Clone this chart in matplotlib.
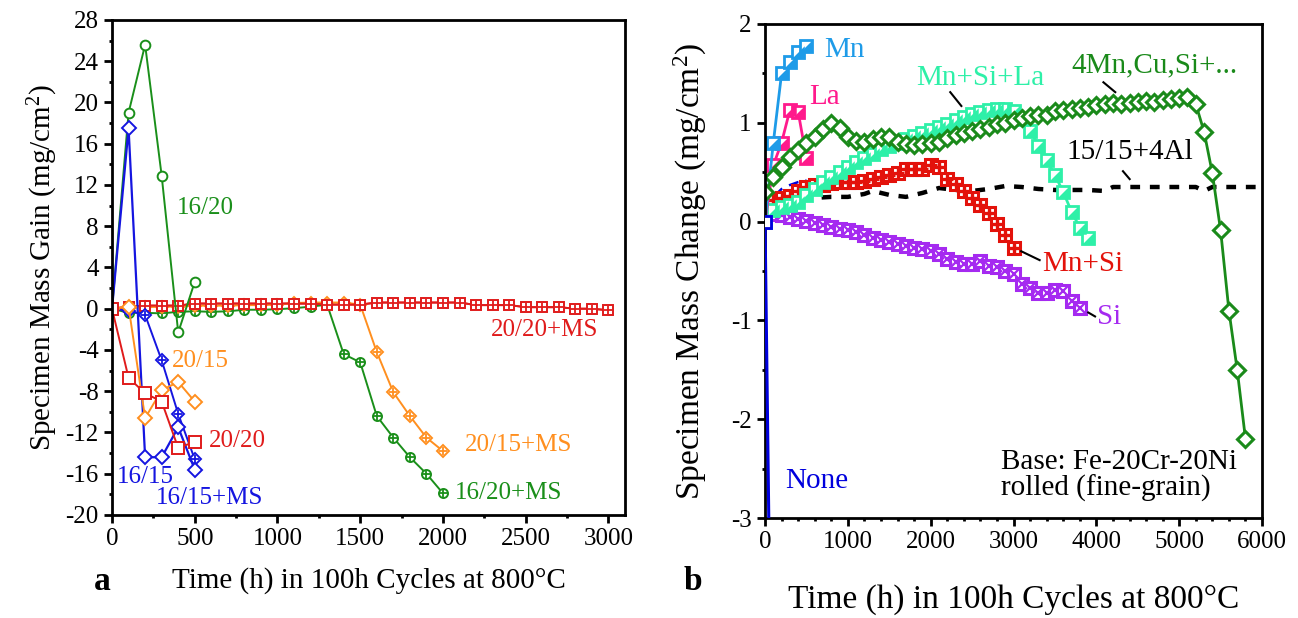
import numpy as np
import matplotlib.pyplot as plt
from matplotlib.path import Path
from matplotlib.ticker import MultipleLocator

plt.rcParams['font.family'] = 'Liberation Serif'
plt.rcParams['mathtext.fontset'] = 'custom'
plt.rcParams['mathtext.rm'] = 'Liberation Serif'
plt.rcParams['mathtext.it'] = 'Liberation Serif:italic'
plt.rcParams['axes.unicode_minus'] = False

# ---------------- panel a: mass gain, 100h cycles ----------------
t_a = [0, 100, 200, 300, 400, 500]
gain_16_20 = [0, 19.0, 25.6, 12.9, -2.3, 2.6]
gain_16_15 = [0, 17.5, -14.4, -14.4, -11.5, -15.6]
gain_20_15 = [0, 0.2, -10.6, -7.9, -7.1, -9.0]
gain_20_20 = [0, -6.7, -8.2, -9.0, -13.5, -12.9]
gain_16_15_ms = [0, -0.2, -0.6, -5.0, -10.2, -14.6]

t_a_long = list(range(0, 2100, 100))
gain_16_20_ms = [0, -0.4, -0.4, -0.45, -0.3, -0.25, -0.3, -0.25, -0.1, -0.1, -0.05,
                 0.05, 0.2, 0.4, -4.4, -5.2, -10.4, -12.5, -14.4, -16.0, -17.9]
gain_20_15_ms = [0, 0.1, 0.15, 0.2, 0.2, 0.3, 0.3, 0.3, 0.35, 0.35, 0.4,
                 0.55, 0.6, 0.6, 0.6, 0.4, -4.2, -8.1, -10.4, -12.5, -13.8]

t_a_3000 = list(range(0, 3100, 100))
gain_20_20_ms = [0, 0.2, 0.3, 0.3, 0.3, 0.5, 0.5, 0.5, 0.5, 0.5, 0.5, 0.5, 0.5, 0.4, 0.4,
                 0.4, 0.6, 0.6, 0.6, 0.6, 0.6, 0.6, 0.35, 0.35, 0.35, 0.15, 0.15, 0.15,
                 0.0, 0.0, -0.15]

# ---------------- panel b: mass change, Fe-20Cr-20Ni variants ----------------
t_b_short = [0, 100, 200, 300, 400, 500]
chg_mn = [0, 0.8, 1.5, 1.62, 1.72, 1.78]
chg_la = [0, 0.57, 0.80, 1.13, 1.11, 0.64]
chg_blue_dash = [0.12, 0.25, 0.33, 0.37, 0.40, 0.42]

t_none = [0, 60]
chg_none = [0, -4.0]

t_mnsila = list(range(0, 4000, 100))
chg_mnsila = [0.0, 0.12, 0.15, 0.17, 0.20, 0.27, 0.33, 0.40, 0.45, 0.50, 0.55, 0.60, 0.64,
              0.68, 0.73, 0.77, 0.80, 0.84, 0.87, 0.90, 0.93, 0.96, 0.99, 1.03, 1.06, 1.09,
              1.11, 1.13, 1.14, 1.14, 1.12, 1.04, 0.92, 0.77, 0.62, 0.47, 0.30, 0.10, -0.06,
              -0.17]

t_mnsi = list(range(0, 3100, 100))
chg_mnsi = [0.17, 0.22, 0.24, 0.26, 0.31, 0.35, 0.37, 0.37, 0.39, 0.40, 0.40, 0.40, 0.41,
            0.43, 0.45, 0.47, 0.49, 0.53, 0.53, 0.53, 0.57, 0.55, 0.43, 0.38, 0.31, 0.24,
            0.17, 0.09, -0.02, -0.14, -0.27]

t_si = list(range(0, 3900, 100))
chg_si = [0.10, 0.08, 0.07, 0.05, 0.03, 0.01, -0.01, -0.03, -0.05, -0.07, -0.09, -0.11,
          -0.14, -0.17, -0.19, -0.21, -0.23, -0.25, -0.27, -0.28, -0.30, -0.33, -0.38,
          -0.41, -0.43, -0.43, -0.40, -0.45, -0.46, -0.50, -0.53, -0.63, -0.67, -0.72,
          -0.72, -0.69, -0.70, -0.80, -0.87]

t_4mn = list(range(0, 5900, 100))
chg_4mn = [0.30, 0.45, 0.55, 0.65, 0.72, 0.80, 0.86, 0.94, 1.00, 0.95, 0.86, 0.82, 0.81,
           0.84, 0.86, 0.86, 0.81, 0.79, 0.78, 0.79, 0.80, 0.81, 0.85, 0.88, 0.90, 0.92,
           0.94, 0.96, 0.99, 1.00, 1.03, 1.05, 1.07, 1.08, 1.08, 1.12, 1.13, 1.14, 1.15,
           1.16, 1.18, 1.19, 1.20, 1.19, 1.20, 1.21, 1.22, 1.21, 1.23, 1.24, 1.25, 1.26,
           1.19, 0.91, 0.49, -0.09, -0.90, -1.50, -2.20]

t_al = [0, 200, 400, 600, 800, 1000, 1200, 1300, 1500, 1700, 1900, 2100, 2300, 2500, 2700,
        2900, 3100, 3300, 3500, 3700, 3900, 4100, 4200, 4400, 4600, 4800, 5000, 5200, 5300,
        5400, 5600, 5800, 6000, 6200]
chg_al = [0.12, 0.20, 0.23, 0.24, 0.25, 0.25, 0.28, 0.31, 0.27, 0.25, 0.29, 0.34, 0.32, 0.31,
          0.33, 0.36, 0.35, 0.33, 0.32, 0.32, 0.32, 0.31, 0.35, 0.35, 0.35, 0.35, 0.35, 0.35,
          0.31, 0.35, 0.35, 0.35, 0.35, 0.35]

GREEN = '#1a8f1a'
BLUE = '#1515e0'
ORANGE = '#ff8f1f'
RED = '#e01b1b'
MN_BLUE = '#1e9be8'
PINK = '#ff1a8c'
AQUA = '#2ef0a8'
DKGREEN = '#1a8a1a'
MNSI_RED = '#e3120b'
PURPLE = '#a52af0'

# lower-right filled half of a square
half_tri = Path([(-1, -1), (1, -1), (1, 1), (-1, -1)])

fig = plt.figure(figsize=(12.98, 6.18), dpi=100)
ax1 = fig.add_axes([0.0863, 0.1667, 0.3952, 0.801])
ax2 = fig.add_axes([0.5894, 0.1618, 0.3829, 0.7994])


def crossed(ax, x, y, color, marker, ms, cross='+'):
    ax.plot(x, y, color=color, lw=1.4, marker=marker, ms=ms, mfc='white', mec=color, mew=1.4)
    ax.plot(x, y, ls='none', marker=cross, ms=ms * 0.95, mec=color, mew=1.3)


# panel a
ax1.plot(t_a_3000, gain_20_20_ms, color=RED, lw=1.4)
crossed(ax1, t_a_long, gain_16_20_ms, GREEN, 'o', 6.5)
crossed(ax1, t_a_long, gain_20_15_ms, ORANGE, 'D', 6.5)
crossed(ax1, t_a_3000, gain_20_20_ms, RED, 's', 6.5)
crossed(ax1, t_a, gain_16_15_ms, BLUE, 'D', 6.5)
ax1.plot(t_a, gain_16_20, color=GREEN, lw=1.4, marker='o', ms=7, mfc='white', mec=GREEN, mew=1.4)
ax1.plot(t_a, gain_16_15, color=BLUE, lw=1.6, marker='D', ms=7, mfc='white', mec=BLUE, mew=1.4)
ax1.plot(t_a, gain_20_15, color=ORANGE, lw=1.4, marker='D', ms=7.5, mfc='white', mec=ORANGE, mew=1.4)
ax1.plot(t_a, gain_20_20, color=RED, lw=1.4, marker='s', ms=8, mfc='white', mec=RED, mew=1.4)

fs_a = 18
ax1.text(392, 9.8, '16/20', color=GREEN, fontsize=fs_a, va='center')
ax1.text(2940, -2.1, '20/20+MS', color=RED, fontsize=fs_a, va='center', ha='right')
ax1.text(359, -5.1, '20/15', color=ORANGE, fontsize=fs_a, va='center')
ax1.text(585, -12.8, '20/20', color=RED, fontsize=fs_a, va='center')
ax1.text(27, -16.3, '16/15', color=BLUE, fontsize=fs_a, va='center')
ax1.text(263, -18.4, '16/15+MS', color=BLUE, fontsize=fs_a, va='center')
ax1.text(2130, -13.2, '20/15+MS', color=ORANGE, fontsize=fs_a, va='center')
ax1.text(2069, -17.9, '16/20+MS', color=GREEN, fontsize=fs_a, va='center')

ax1.set_xlim(0, 3100)
ax1.set_ylim(-20, 28)
ax1.xaxis.set_major_locator(MultipleLocator(500))
ax1.xaxis.set_minor_locator(MultipleLocator(250))
ax1.yaxis.set_major_locator(MultipleLocator(4))
ax1.yaxis.set_minor_locator(MultipleLocator(2))
ax1.set_xticks([0, 500, 1000, 1500, 2000, 2500, 3000])
ax1.set_xlabel('Time (h) in 100h Cycles at 800°C', fontsize=21, labelpad=12)
ax1.set_ylabel('Specimen Mass Gain (mg/cm$^2$)', fontsize=21, labelpad=4)
fig.text(0.072, 0.045, 'a', fontsize=24, fontweight='bold')

# panel b
ax2.plot(t_none, chg_none, color='#0000dd', lw=2.2, marker='s', ms=9, mfc='white',
         mec='#0000dd', mew=2, markevery=[0], zorder=6)
ax2.plot(t_b_short, chg_blue_dash, color='#0000dd', lw=1.8, ls=(0, (4, 3)))
ax2.plot(t_al, chg_al, color='black', lw=3.2, ls=(0, (2.2, 2.2)))

ax2.plot(t_si, chg_si, color=PURPLE, lw=1.5, marker='s', ms=9, mfc='white', mec=PURPLE, mew=2.2)
ax2.plot(t_si, chg_si, ls='none', marker='x', ms=7, mec=PURPLE, mew=1.6)

ax2.plot(t_mnsi, chg_mnsi, color=MNSI_RED, lw=1.5, marker='s', ms=9, mfc='white', mec=MNSI_RED, mew=2.2)
ax2.plot(t_mnsi, chg_mnsi, ls='none', marker='+', ms=9, mec=MNSI_RED, mew=2.4)

for tt, yy, col in [(t_mnsila, chg_mnsila, AQUA), (t_b_short, chg_la, PINK), (t_b_short, chg_mn, MN_BLUE)]:
    ax2.plot(tt, yy, color=col, lw=2, marker='s', ms=9, mfc='white', mec=col, mew=2)
    ax2.plot(tt, yy, ls='none', marker=half_tri, ms=9, mfc=col, mec='none')

ax2.plot(t_4mn, chg_4mn, color=DKGREEN, lw=2, marker='D', ms=8, mfc='white', mec=DKGREEN, mew=2.2)

fs_b = 21
ax2.text(711, 1.74, 'Mn', color=MN_BLUE, fontsize=fs_b, va='center')
ax2.text(528, 1.26, 'La', color=PINK, fontsize=fs_b, va='center')
ax2.text(1829, 1.45, 'Mn+Si+La', color=AQUA, fontsize=fs_b, va='center')
ax2.plot([2236, 2370], [1.31, 1.17], color='black', lw=1.5)
ax2.text(3699, 1.58, '4Mn,Cu,Si+...', color=DKGREEN, fontsize=fs_b, va='center')
ax2.plot([4085, 4228], [1.41, 1.31], color='black', lw=1.5)
ax2.text(3638, 0.70, '15/15+4Al', color='black', fontsize=fs_b, va='center')
ax2.plot([4321, 4402], [0.51, 0.43], color='black', lw=1.5)
ax2.text(3346, -0.43, 'Mn+Si', color=MNSI_RED, fontsize=fs_b, va='center')
ax2.plot([3092, 3315], [-0.30, -0.39], color='black', lw=1.5)
ax2.text(4004, -0.97, 'Si', color=PURPLE, fontsize=fs_b, va='center')
ax2.plot([3902, 3984], [-0.92, -0.96], color='black', lw=1.5)
ax2.text(244, -2.63, 'None', color='#0000dd', fontsize=fs_b, va='center')
ax2.text(2846, -2.57, 'Base: Fe-20Cr-20Ni\nrolled (fine-grain)', color='black',
         fontsize=fs_b, va='center', linespacing=0.95)

ax2.set_xlim(0, 6000)
ax2.set_ylim(-3, 2)
ax2.xaxis.set_major_locator(MultipleLocator(1000))
ax2.xaxis.set_minor_locator(MultipleLocator(200))
ax2.yaxis.set_major_locator(MultipleLocator(1))
ax2.yaxis.set_minor_locator(MultipleLocator(0.5))
ax2.set_xlabel('Time (h) in 100h Cycles at 800°C', fontsize=24, labelpad=22)
ax2.set_ylabel('Specimen Mass Change (mg/cm$^2$)', fontsize=24, labelpad=16)
fig.text(0.527, 0.045, 'b', fontsize=24, fontweight='bold')

for ax in (ax1, ax2):
    for s in ax.spines.values():
        s.set_linewidth(2)
    ax.tick_params(which='both', direction='out', top=False, right=False, labelsize=18)
    ax.tick_params(which='major', length=6, width=2)
    ax.tick_params(which='minor', length=2.5, width=2)

fig.savefig('out.png', dpi=100)
